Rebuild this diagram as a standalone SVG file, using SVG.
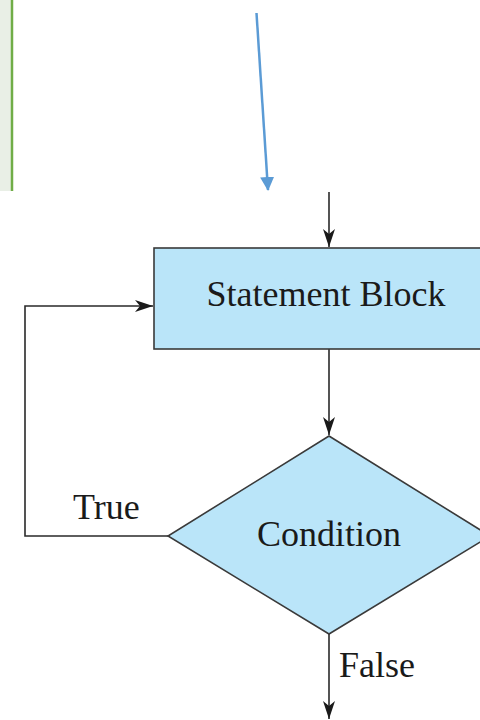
<svg xmlns="http://www.w3.org/2000/svg" width="480" height="720" viewBox="0 0 480 720">
<style>
.shape{fill:#bae5f9;stroke:#3a3a3a;stroke-width:1.6}
.conn{fill:none;stroke:#2a2a2a;stroke-width:1.6}
.lbl{font-family:"Liberation Serif","Times New Roman","DejaVu Serif",serif;font-size:36px;fill:#1a1a1a}
</style>
<defs>
<marker id="ah" viewBox="0 0 18 12" refX="18" refY="6" markerWidth="18" markerHeight="12" markerUnits="userSpaceOnUse" orient="auto">
<path d="M0,0 L18,6 L0,12 L5,6 Z" fill="#1a1a1a"/>
</marker>
<marker id="bh" viewBox="0 0 14 14" refX="13" refY="7" markerWidth="14" markerHeight="14" markerUnits="userSpaceOnUse" orient="auto">
<path d="M0,0 L14,7 L0,14 Z" fill="#5b9bd5"/>
</marker>
</defs>
<rect x="0" y="0" width="12" height="191" fill="#e9efe6"/>
<line x1="12" y1="0" x2="12" y2="191" stroke="#70ad47" stroke-width="2.5"/>
<g id="connectors">
<line x1="256.5" y1="13" x2="268" y2="190" stroke="#5b9bd5" stroke-width="2.5" marker-end="url(#bh)"/>
<line class="conn" x1="329" y1="192" x2="329" y2="247" marker-end="url(#ah)"/>
<line class="conn" x1="329" y1="349" x2="329" y2="435" marker-end="url(#ah)"/>
<polyline class="conn" points="168,536 25,536 25,306 153,306" marker-end="url(#ah)"/>
<line class="conn" x1="329" y1="634" x2="329" y2="719" marker-end="url(#ah)"/>
<text class="lbl" x="73" y="519">True</text>
<text class="lbl" x="339" y="677">False</text>
</g>
<g id="statement-block">
<rect class="shape" x="154" y="248" width="340" height="101"/>
<text class="lbl" x="326" y="306" text-anchor="middle">Statement Block</text>
</g>
<g id="condition">
<polygon class="shape" points="329,436 490,536 329,634 168,536"/>
<text class="lbl" x="329" y="546" text-anchor="middle">Condition</text>
</g>
</svg>
